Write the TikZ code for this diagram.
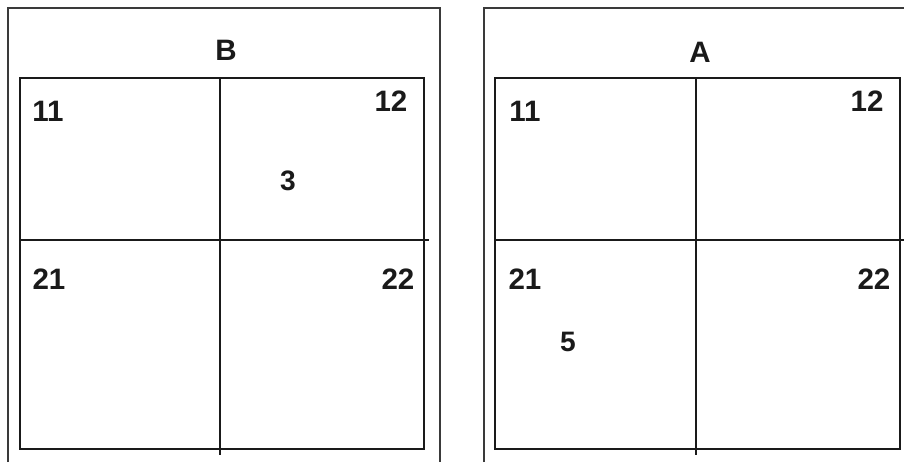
\documentclass[tikz,border=0pt]{standalone}
\usepackage{fontspec}
\setmainfont{Liberation Sans}
\usepackage{tikz}
\usetikzlibrary{positioning}
\definecolor{GridInk}{HTML}{1A1A1A}
\definecolor{FrameInk}{HTML}{3A3A3A}

\begin{document}
\begin{tikzpicture}[x=0.025cm, y=-0.025cm,
    every node/.style={align=center, inner sep=0pt, text=GridInk},
    frame/.style={draw=FrameInk, line width=1.3pt},
    grid/.style={draw=GridInk, line width=1.1pt},
    cellnum/.style={font=\fontsize{21}{25}\selectfont\bfseries},
    pointnum/.style={font=\fontsize{20}{24}\selectfont\bfseries}]
  \useasboundingbox (0,0) rectangle (904,462);
  % left panel
  \draw[frame] (8,462) -- (8,8) -- (440,8) -- (440,462);
  \draw[grid] (20,78) rectangle (424,449);
  \draw[grid] (220,78) -- (220,455);
  \draw[grid] (20,240) -- (429,240);
  \node[cellnum]  (tB)  at (226,50)  {B};
  \node[cellnum]  (b11) at (48,111)  {11};
  \node[cellnum]  (b12) at (391,101) {12};
  \node[pointnum] (b3)  at (288,181) {3};
  \node[cellnum]  (b21) at (49,279)  {21};
  \node[cellnum]  (b22) at (398,279) {22};
  % right panel
  \draw[frame] (484,462) -- (484,8) -- (910,8);
  \draw[grid] (495,78) rectangle (900,449);
  \draw[grid] (696,78) -- (696,455);
  \draw[grid] (495,240) -- (910,240);
  \node[cellnum]  (tA)  at (700,52)  {A};
  \node[cellnum]  (a11) at (525,111) {11};
  \node[cellnum]  (a12) at (867,101) {12};
  \node[cellnum]  (a21) at (525,279) {21};
  \node[cellnum]  (a22) at (874,279) {22};
  \node[pointnum] (a5)  at (568,342) {5};
\end{tikzpicture}
\end{document}
